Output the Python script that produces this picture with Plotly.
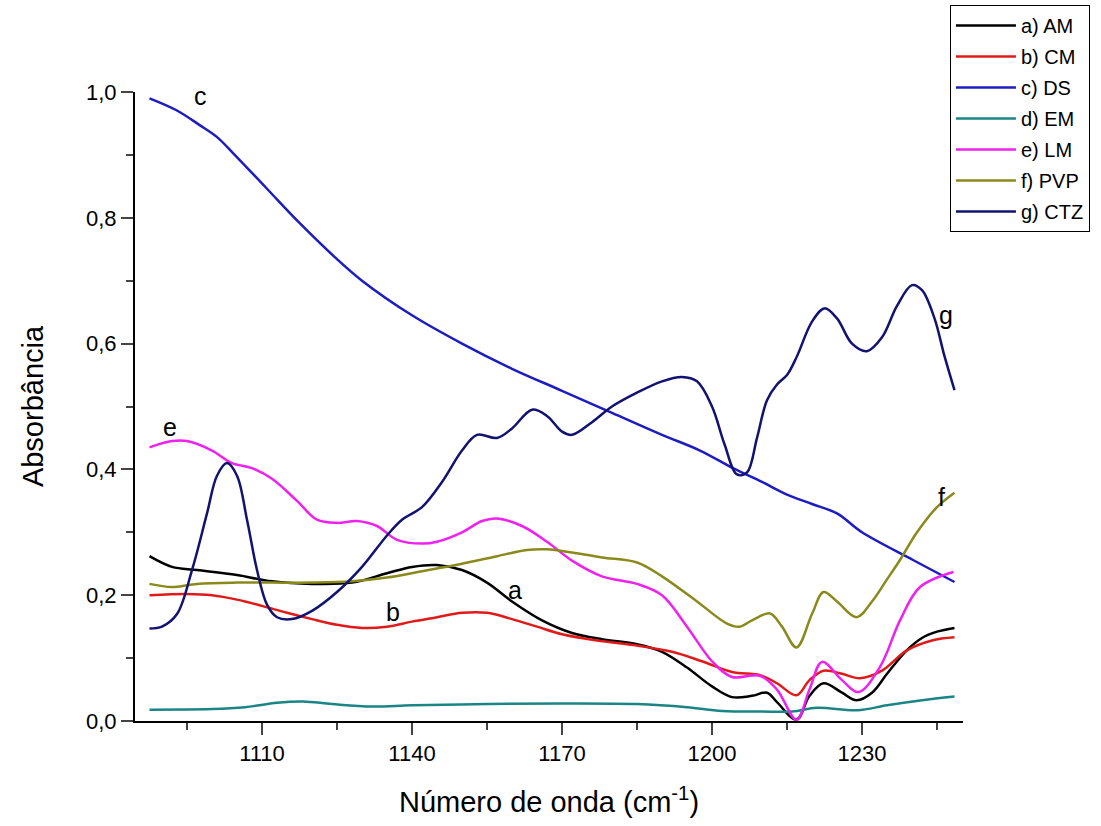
import plotly.graph_objects as go

# ---- data (wavenumber cm^-1, absorbance) ----
am_x = [1087.5, 1092, 1097, 1105, 1112, 1120, 1128, 1135, 1140, 1145, 1150, 1155, 1160, 1166, 1172, 1178, 1185,
        1190, 1195, 1200, 1204, 1208, 1211, 1213, 1216.9, 1219.5, 1222.3, 1226, 1228.9, 1232, 1235, 1238.9, 1242, 1245, 1248.5]
am_y = [0.262, 0.245, 0.240, 0.232, 0.222, 0.218, 0.220, 0.235, 0.245, 0.248, 0.240, 0.220, 0.190, 0.160, 0.140, 0.130, 0.122,
        0.110, 0.085, 0.055, 0.038, 0.040, 0.045, 0.030, 0.002, 0.040, 0.060, 0.045, 0.033, 0.045, 0.075, 0.112, 0.132, 0.142, 0.148]

cm_x = [1087.5, 1095, 1100, 1105, 1110, 1115, 1120, 1125, 1130, 1135, 1140, 1145, 1150, 1155, 1160, 1165, 1170, 1177, 1185,
        1192, 1198, 1204, 1209.6, 1213, 1216.9, 1219.5, 1222.3, 1226, 1229.6, 1234, 1238.9, 1244, 1248.5]
cm_y = [0.200, 0.202, 0.200, 0.193, 0.183, 0.172, 0.162, 0.153, 0.148, 0.150, 0.158, 0.165, 0.172, 0.172, 0.162, 0.150, 0.138, 0.128, 0.120,
        0.110, 0.095, 0.078, 0.073, 0.060, 0.041, 0.065, 0.080, 0.075, 0.068, 0.080, 0.112, 0.128, 0.133]

ds_x = [1087.5, 1092.9, 1097.6, 1100.9, 1104.2, 1110.9, 1117.6, 1124.9, 1130, 1140, 1150, 1160, 1170, 1180, 1190, 1197.6,
        1204.2, 1210, 1215, 1220, 1225, 1230, 1240.2, 1248.5]
ds_y = [0.990, 0.971, 0.947, 0.929, 0.903, 0.847, 0.791, 0.735, 0.700, 0.645, 0.600, 0.560, 0.525, 0.490, 0.455, 0.430,
        0.402, 0.380, 0.360, 0.345, 0.330, 0.300, 0.256, 0.221]

em_x = [1087.5, 1100, 1106.6, 1113, 1118.2, 1124, 1132, 1140, 1155, 1170, 1185, 1195, 1202, 1210, 1216, 1221, 1229, 1235, 1242, 1248.5]
em_y = [0.018, 0.019, 0.022, 0.029, 0.031, 0.027, 0.023, 0.025, 0.027, 0.028, 0.027, 0.022, 0.016, 0.015, 0.015, 0.021, 0.017, 0.025, 0.033, 0.039]

lm_x = [1087.5, 1092, 1095, 1100, 1104, 1108, 1112, 1117, 1121, 1125, 1129, 1133, 1137, 1142, 1145, 1150, 1154, 1157, 1162,
        1167, 1172, 1178, 1185, 1190, 1195, 1200, 1204, 1209.6, 1213, 1216.9, 1219.5, 1222, 1226, 1229.3, 1233.6, 1237.6, 1241.6, 1248.3]
lm_y = [0.435, 0.445, 0.445, 0.430, 0.410, 0.402, 0.385, 0.350, 0.320, 0.315, 0.318, 0.310, 0.288, 0.282, 0.285, 0.300, 0.318, 0.322, 0.310,
        0.285, 0.255, 0.230, 0.218, 0.200, 0.150, 0.095, 0.070, 0.072, 0.050, 0.002, 0.050, 0.094, 0.065, 0.046, 0.086, 0.160, 0.213, 0.237]

pvp_x = [1087.5, 1092, 1097, 1105, 1112, 1120, 1128, 1135, 1142, 1150, 1157, 1163, 1167, 1172, 1178, 1185, 1190, 1197, 1203,
         1205.5, 1208, 1211.6, 1214, 1216.9, 1220, 1222.3, 1225, 1228.9, 1232, 1234.9, 1237.6, 1241, 1245, 1248.5]
pvp_y = [0.218, 0.213, 0.218, 0.220, 0.220, 0.220, 0.222, 0.228, 0.238, 0.250, 0.262, 0.272, 0.273, 0.268, 0.260, 0.252, 0.230, 0.190, 0.155,
         0.150, 0.160, 0.171, 0.150, 0.117, 0.170, 0.205, 0.190, 0.165, 0.190, 0.224, 0.256, 0.300, 0.340, 0.363]

ctz_x = [1087.5, 1090, 1093, 1096, 1099, 1101, 1103, 1105, 1107, 1109, 1111, 1113, 1116, 1120, 1125, 1130, 1135, 1138, 1142,
         1146, 1150, 1153, 1157, 1160, 1164, 1167, 1170, 1172, 1176, 1180, 1185, 1190, 1194, 1197, 1200, 1202.5, 1205, 1207,
         1209, 1211, 1213, 1215, 1217, 1220, 1222.5, 1225, 1228, 1231, 1234, 1237, 1240, 1242, 1244.5, 1246.5, 1248.5]
ctz_y = [0.147, 0.150, 0.170, 0.240, 0.330, 0.390, 0.410, 0.390, 0.320, 0.240, 0.185, 0.165, 0.162, 0.175, 0.205, 0.245, 0.295, 0.320, 0.340,
         0.380, 0.430, 0.455, 0.450, 0.465, 0.495, 0.485, 0.460, 0.455, 0.475, 0.500, 0.522, 0.540, 0.547, 0.540, 0.500, 0.440, 0.392, 0.395,
         0.450, 0.510, 0.535, 0.550, 0.580, 0.635, 0.656, 0.640, 0.600, 0.588, 0.610, 0.660, 0.693, 0.685, 0.640, 0.580, 0.526]

series_names = ["a) AM", "b) CM", "c) DS", "d) EM", "e) LM", "f) PVP", "g) CTZ"]
series_x = [am_x, cm_x, ds_x, em_x, lm_x, pvp_x, ctz_x]
series_y = [am_y, cm_y, ds_y, em_y, lm_y, pvp_y, ctz_y]
colors = ["#000000", "#e01a1a", "#1c1cc0", "#1b8585", "#ee22ee", "#8a8a1c", "#121270"]

labels_text = ["c", "e", "a", "b", "g", "f", "d"]
labels_x = [1097.6, 1091.6, 1160.6, 1136.2, 1246.8, 1245.8, 1251.2]
labels_y = [0.993, 0.467, 0.208, 0.173, 0.645, 0.356, -0.004]

font_family = "Arial, Liberation Sans, sans-serif"

fig = go.Figure()
for i, (name, xs, ys, col) in enumerate(zip(series_names, series_x, series_y, colors)):
    fig.add_trace(go.Scatter(x=xs, y=ys, mode="lines", name=name, legendgroup="g%d" % i,
                             line=dict(color=col, width=2.5, shape="spline", smoothing=1.0)))

for t, lx, ly in zip(labels_text, labels_x, labels_y):
    fig.add_annotation(x=lx, y=ly, text=t, showarrow=False, xref="x", yref="y",
                       font=dict(size=25, color="black", family=font_family))

fig.update_layout(
    width=1101, height=826,
    margin=dict(l=135, r=138, t=92, b=105, autoexpand=False),
    paper_bgcolor="white", plot_bgcolor="white",
    separators=",.",
    font=dict(family=font_family, color="black"),
    showlegend=True,
    legend=dict(xref="container", yref="container", x=0.8628, y=0.994, xanchor="left", yanchor="top",
                bordercolor="black", borderwidth=1, bgcolor="white", itemwidth=60,
                font=dict(size=20, family=font_family), tracegroupgap=2),
)
fig.update_xaxes(range=[1084.6, 1250.2], tick0=1110, dtick=30, ticks="outside", ticklen=12, tickwidth=2,
                 showline=True, linecolor="black", linewidth=2, showgrid=False, zeroline=False,
                 tickfont=dict(size=22), minor=dict(ticks="outside", ticklen=7, tickwidth=2, dtick=15, tick0=1110, showgrid=False),
                 title=dict(text="Número de onda (cm<sup>-1</sup>)", font=dict(size=29), standoff=26))
fig.update_yaxes(range=[0, 1.0], tick0=0, dtick=0.2, tickformat=".1f", ticks="outside", ticklen=12, tickwidth=2,
                 showline=True, linecolor="black", linewidth=2, showgrid=False, zeroline=False,
                 tickfont=dict(size=22), minor=dict(ticks="outside", ticklen=7, tickwidth=2, dtick=0.1, showgrid=False),
                 title=dict(text="Absorbância", font=dict(size=29), standoff=34))

fig.write_html("out.html")
